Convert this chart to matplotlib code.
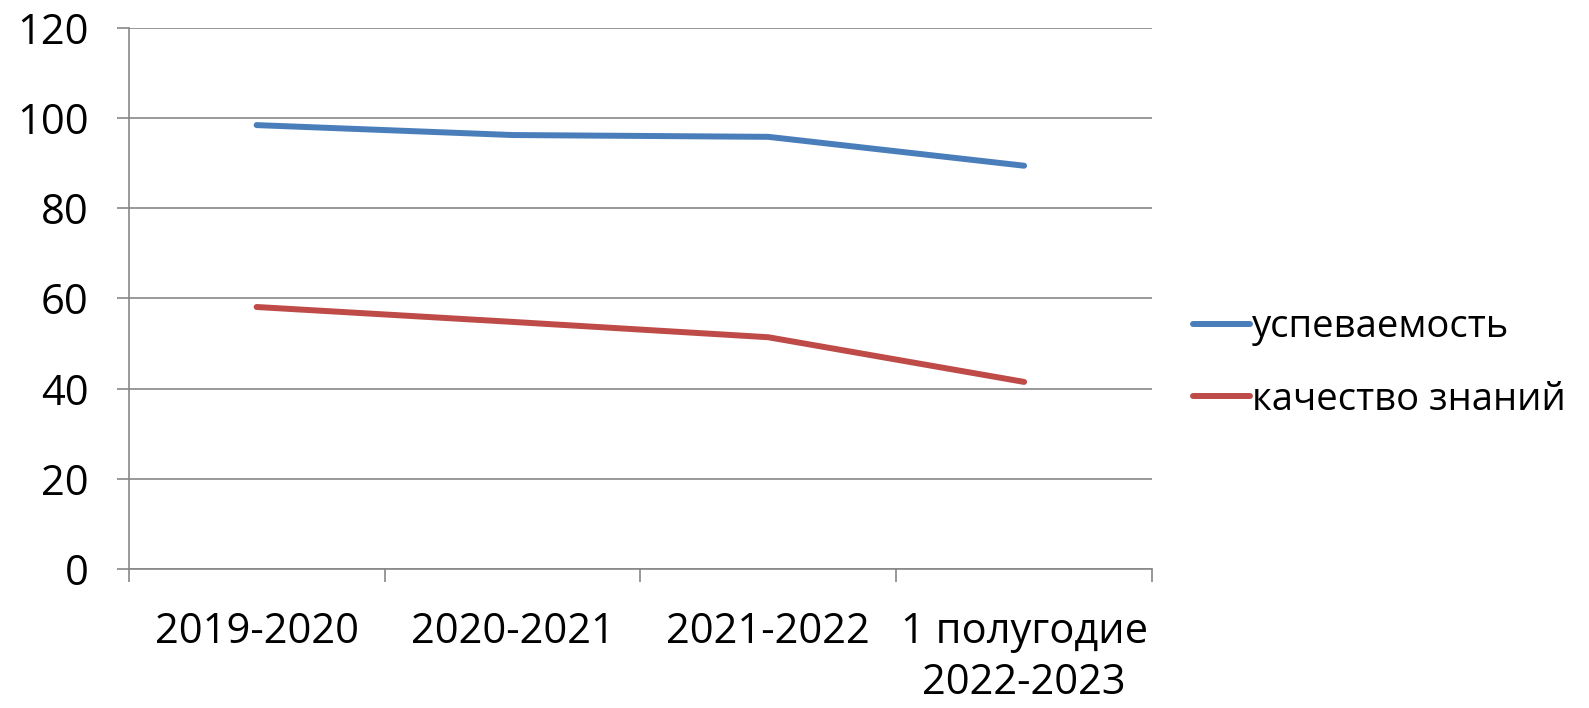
import matplotlib
matplotlib.use("Agg")
import matplotlib.pyplot as plt
import numpy as np

# данные
categories = ["2019-2020", "2020-2021", "2021-2022", "1 полугодие\n2022-2023"]
uspevaemost = [98.4, 96.2, 95.8, 89.4]
kachestvo = [58.1, 54.8, 51.4, 41.5]
y_ticks = [0, 20, 40, 60, 80, 100, 120]

plt.rcParams['font.family'] = ['Open Sans', 'DejaVu Sans']
FS = 30

fig = plt.figure(figsize=(15.89, 7.08), dpi=100)
ax = fig.add_axes([0.081, 0.196, 0.644, 0.765])

x = np.arange(len(categories)) + 0.5
ax.plot(x, uspevaemost, color='#4a7ebb', linewidth=4.3, solid_capstyle='round', label='успеваемость')
ax.plot(x, kachestvo, color='#be4b48', linewidth=4.3, solid_capstyle='round', label='качество знаний')

ax.set_xlim(0, len(categories))
ax.set_ylim(0, 120)
ax.set_yticks(y_ticks)
ax.set_xticks(np.arange(len(categories) + 1))
ax.set_xticklabels([])
ax.set_xticks(x, minor=True)
ax.set_xticklabels(categories, minor=True, fontsize=FS)
for lbl in ax.get_xticklabels(minor=True):
    lbl.set_linespacing(1.3)
ax.tick_params(axis='x', which='minor', length=0, pad=30)
ax.tick_params(axis='x', which='major', length=9, width=1.2, color='#878787', direction='out')
ax.tick_params(axis='y', length=9, width=1.2, color='#878787', labelsize=FS, pad=20)

# сетка
ax.grid(axis='y', color='#878787', linewidth=1.2)
ax.set_axisbelow(True)
for s in ['top', 'right']:
    ax.spines[s].set_visible(False)
for s in ['left', 'bottom']:
    ax.spines[s].set_color('#878787')
    ax.spines[s].set_linewidth(1.2)

ax.legend(loc='center left', bbox_to_anchor=(1.006, 0.38), frameon=False, fontsize=27.5,
          handlelength=1.5, handletextpad=0.05, labelspacing=0.9)

fig.savefig("out.png", dpi=100)
